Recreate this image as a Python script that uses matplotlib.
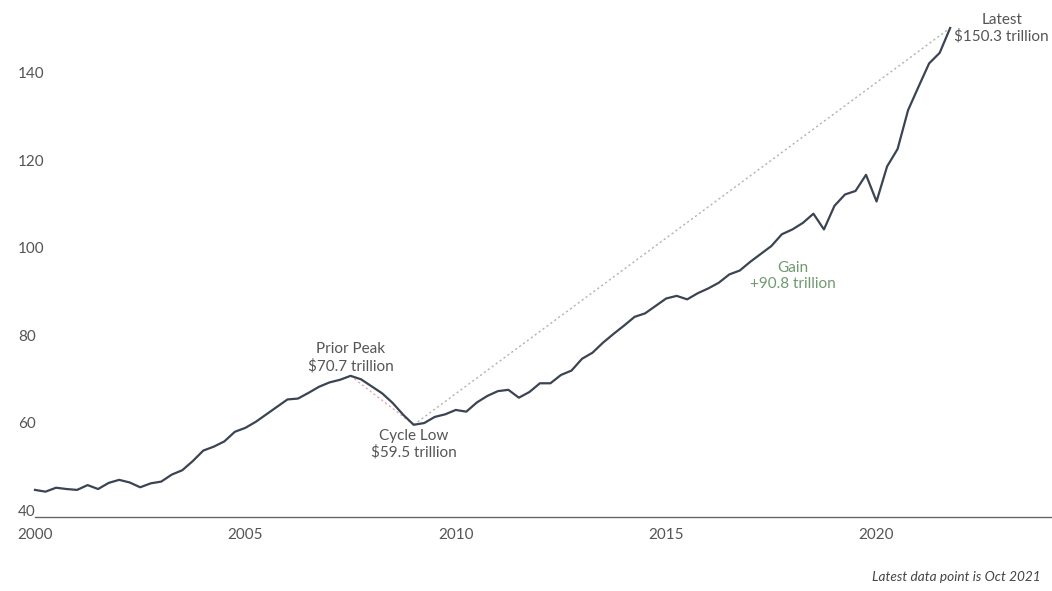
import numpy as np
import matplotlib
matplotlib.use('Agg')
import matplotlib.pyplot as plt

# household net worth, $ trillions, quarterly from 2000 Q1
net_worth = [44.6, 44.2, 45.1, 44.8, 44.6, 45.7, 44.8, 46.2, 46.9, 46.3,
             45.2, 46.1, 46.5, 48.1, 49.1, 51.2, 53.6, 54.5, 55.7, 57.9,
             58.8, 60.2, 61.9, 63.6, 65.3, 65.5, 66.8, 68.2, 69.2, 69.8,
             70.7, 69.9, 68.3, 66.7, 64.5, 61.8, 59.5, 59.9, 61.3, 61.9,
             62.9, 62.5, 64.6, 66.1, 67.2, 67.5, 65.7, 67.0, 69.0, 69.0,
             70.9, 71.9, 74.6, 76.0, 78.3, 80.3, 82.2, 84.2, 85.0, 86.7,
             88.4, 89.0, 88.2, 89.6, 90.7, 92.0, 93.9, 94.8, 96.8, 98.6,
             100.4, 103.1, 104.2, 105.7, 107.8, 104.2, 109.6, 112.2, 113.0, 116.7,
             110.6, 118.6, 122.6, 131.5, 136.9, 142.2, 144.6, 150.3]
start_year = 2000
peak_idx, low_idx = 30, 36
x_ticks = [2000, 2005, 2010, 2015, 2020]
y_ticks = [40, 60, 80, 100, 120, 140]

plt.rcParams['font.family'] = ['Lato', 'DejaVu Sans']
txt = '#555555'
fs = 11

t = start_year + np.arange(len(net_worth)) / 4
v = np.array(net_worth)
last = len(v) - 1

fig = plt.figure(figsize=(10.52, 5.91), dpi=100)
ax = fig.add_axes([35/1052, 74/591, 1017/1052, 517/591])

ax.plot(t, v, color='#3b4452', lw=1.6, clip_on=False, zorder=3,
        solid_joinstyle='round')
ax.plot([t[peak_idx], t[low_idx]], [v[peak_idx], v[low_idx]],
        ls=(0, (1.5, 2)), color='#e8a3ab', lw=1, zorder=2)
ax.plot([t[low_idx], t[last]], [v[low_idx], v[last]],
        ls=(0, (1.5, 2)), color='#a9b8a6', lw=1, zorder=2)

ax.set_xlim(2000, 2024.17)
ax.set_ylim(38.4, 156.7)
ax.set_xticks(x_ticks)
ax.set_yticks(y_ticks)
ax.tick_params(axis='x', length=0, pad=8, labelsize=fs, labelcolor=txt)
ax.tick_params(axis='y', length=0, pad=12.2, labelsize=fs, labelcolor=txt)
for lab in ax.get_yticklabels():
    lab.set_horizontalalignment('left')
for s in ['top', 'right', 'left']:
    ax.spines[s].set_visible(False)
ax.spines['bottom'].set_color('#666666')
ax.spines['bottom'].set_linewidth(1)

ax.annotate(f'Prior Peak\n${v[peak_idx]:.1f} trillion', (t[peak_idx], v[peak_idx]),
            xytext=(0, 2), textcoords='offset points', ha='center', va='bottom',
            fontsize=fs, color=txt, linespacing=1.2)
ax.annotate(f'Cycle Low\n${v[low_idx]:.1f} trillion', (t[low_idx], v[low_idx]),
            xytext=(0, -3), textcoords='offset points', ha='center', va='top',
            fontsize=fs, color=txt, linespacing=1.2)
ax.annotate(f'Latest\n${v[last]:.1f} trillion', (t[last], v[last]),
            xytext=(3, 0), textcoords='offset points', ha='left', va='center',
            multialignment='center', fontsize=fs, color=txt, linespacing=1.2)
ax.text(2018.0, 93.5, f'Gain\n+{v[last] - v[low_idx]:.1f} trillion', ha='center',
        va='center', fontsize=fs, color='#6f9a6f', linespacing=1.2)

fig.text(1041/1052, 8/591, 'Latest data point is Oct 2021', ha='right', va='bottom',
         fontsize=9.8, style='italic', color='#444444')

fig.savefig('out.png', dpi=100)
